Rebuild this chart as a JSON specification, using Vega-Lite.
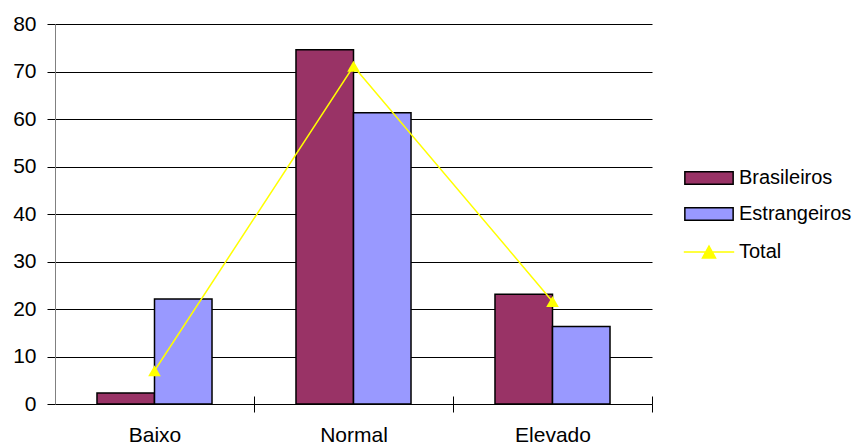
{
  "$schema": "https://vega.github.io/schema/vega-lite/v6.json",
  "width": 597,
  "height": 380,
  "autosize": "none",
  "padding": {"left": 55, "top": 24, "right": 216, "bottom": 41},
  "background": "white",
  "config": {
    "view": {"stroke": null},
    "font": "Liberation Sans",
    "axis": {"labelFont": "Liberation Sans", "labelColor": "black", "titleFont": "Liberation Sans"},
    "legend": {"labelFont": "Liberation Sans"}
  },
  "data": {
    "values": [
      {"nivel": "Baixo", "grupo": "Brasileiros", "valor": 2.3},
      {"nivel": "Baixo", "grupo": "Estrangeiros", "valor": 22.1},
      {"nivel": "Baixo", "grupo": "Total", "valor": 7.0},
      {"nivel": "Normal", "grupo": "Brasileiros", "valor": 74.6},
      {"nivel": "Normal", "grupo": "Estrangeiros", "valor": 61.3},
      {"nivel": "Normal", "grupo": "Total", "valor": 71.1},
      {"nivel": "Elevado", "grupo": "Brasileiros", "valor": 23.1},
      {"nivel": "Elevado", "grupo": "Estrangeiros", "valor": 16.3},
      {"nivel": "Elevado", "grupo": "Total", "valor": 21.6}
    ]
  },
  "encoding": {
    "y": {
      "field": "valor",
      "type": "quantitative",
      "scale": {"domain": [0, 80], "nice": false}
    }
  },
  "layer": [
    {
      "transform": [{"filter": "datum.grupo !== 'Total'"}],
      "mark": {"type": "bar", "stroke": "black", "strokeWidth": 1.5, "opacity": 1},
      "encoding": {
        "x": {
          "field": "nivel",
          "type": "nominal",
          "sort": ["Baixo", "Normal", "Elevado"],
          "title": null,
          "scale": {"paddingInner": 0, "paddingOuter": 0},
          "axis": {
            "orient": "bottom",
            "labelAngle": 0,
            "labelFontSize": 21,
            "labelPadding": 12,
            "tickSize": 8,
            "tickColor": "black",
            "tickWidth": 1,
            "tickOffset": 99.5,
            "labelOffset": -99.5,
            "domainColor": "black",
            "domainWidth": 1,
            "grid": false
          }
        },
        "xOffset": {
          "field": "grupo",
          "type": "nominal",
          "scale": {"paddingInner": 0, "paddingOuter": 0.73}
        },
        "y": {
          "field": "valor",
          "type": "quantitative",
          "title": null,
          "axis": {
            "values": [0, 10, 20, 30, 40, 50, 60, 70, 80],
            "labelFontSize": 21,
            "labelPadding": 11,
            "tickSize": 8,
            "tickColor": "black",
            "domainColor": "#808080",
            "domainWidth": 1,
            "grid": true,
            "gridColor": "black",
            "gridWidth": 1,
            "gridOpacity": 1
          }
        },
        "fill": {
          "field": "grupo",
          "type": "nominal",
          "scale": {
            "domain": ["Brasileiros", "Estrangeiros"],
            "range": ["#993366", "#9999FF"]
          },
          "legend": {
            "title": null,
            "orient": "none",
            "legendX": 644,
            "legendY": 144,
            "padding": 0,
            "rowPadding": 16,
            "labelFontSize": 20,
            "labelColor": "black",
            "labelOffset": 20,
            "symbolSize": 196,
            "symbolType": "M-3.45,-0.9H3.45V0.9H-3.45Z",
            "symbolStrokeColor": "black",
            "symbolStrokeWidth": 1.5,
            "symbolOpacity": 1
          }
        }
      }
    },
    {
      "transform": [{"filter": "datum.grupo === 'Total'"}],
      "mark": {
        "type": "line",
        "strokeWidth": 1.5,
        "point": {"shape": "triangle-up", "size": 160, "filled": true, "opacity": 1, "fill": "#FFFF00", "strokeWidth": 0}
      },
      "encoding": {
        "x": {
          "field": "nivel",
          "type": "nominal",
          "sort": ["Baixo", "Normal", "Elevado"],
          "title": null,
          "scale": {"paddingInner": 0, "paddingOuter": 0},
          "axis": {
            "orient": "bottom",
            "labels": false,
            "domain": false,
            "grid": false,
            "tickSize": -8,
            "tickColor": "black",
            "tickWidth": 1,
            "tickOffset": 99.5
          }
        },
        "stroke": {
          "field": "grupo",
          "type": "nominal",
          "scale": {"domain": ["Total"], "range": ["#FFFF00"]},
          "legend": {
            "title": null,
            "orient": "none",
            "legendX": 644,
            "legendY": 218,
            "padding": 0,
            "labelFontSize": 20,
            "labelColor": "black",
            "labelOffset": 20,
            "symbolSize": 196,
            "symbolType": "M-3.6,0H3.6M0,-0.85L0.93,0.85H-0.93Z",
            "symbolFillColor": "#FFFF00",
            "symbolStrokeWidth": 1.5,
            "symbolOpacity": 1
          }
        }
      }
    }
  ],
  "resolve": {"axis": {"x": "independent"}}
}
